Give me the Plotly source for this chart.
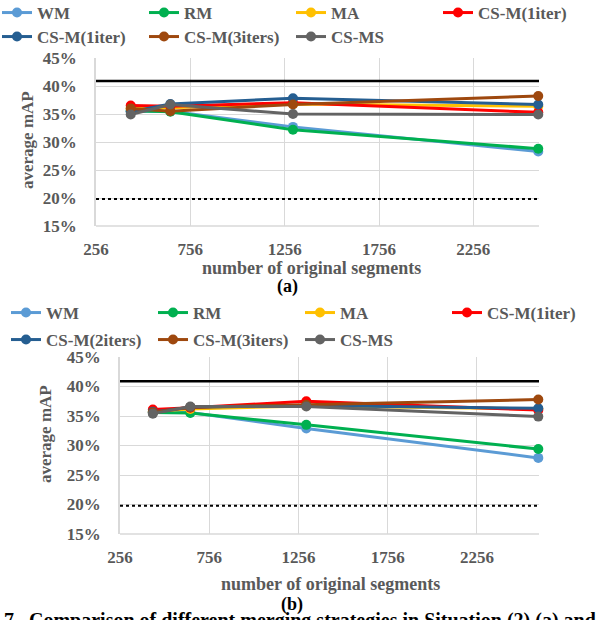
import plotly.graph_objects as go

segments = [440, 650, 1300, 2600]

names_a = ["WM", "RM", "MA", "CS-M(1iter)", "CS-M(1iter)", "CS-M(3iters)", "CS-MS"]
names_b = ["WM", "RM", "MA", "CS-M(1iter)", "CS-M(2iters)", "CS-M(3iters)", "CS-MS"]
colors = ["#5B9BD5", "#00B050", "#FFC000", "#FF0000", "#255E91", "#9E480E", "#636363"]

# panel (a) values, %
a_wm = [35.5, 35.5, 32.7, 28.3]
a_rm = [35.6, 35.4, 32.2, 28.8]
a_ma = [36.0, 36.1, 36.8, 36.4]
a_cs1 = [36.5, 36.4, 37.0, 35.3]
a_cs2 = [35.4, 36.8, 37.8, 36.7]
a_cs3 = [36.0, 35.5, 36.7, 38.2]
a_csms = [34.9, 36.7, 35.0, 34.9]

# panel (b) values, %
b_wm = [35.6, 35.6, 32.9, 27.9]
b_rm = [35.6, 35.5, 33.5, 29.4]
b_ma = [35.8, 36.2, 36.7, 36.2]
b_cs1 = [36.1, 36.4, 37.5, 36.0]
b_cs2 = [35.7, 36.5, 36.8, 36.3]
b_cs3 = [35.6, 36.5, 36.9, 37.8]
b_csms = [35.4, 36.6, 36.6, 34.9]

upper_bound = 40.9
lower_bound = 19.8

y_ticks = [15, 20, 25, 30, 35, 40, 45]
y_labels = ["15%", "20%", "25%", "30%", "35%", "40%", "45%"]
x_tick0 = 256
x_dtick = 500

W, H = 600, 620
GRAY = "#595959"
FONT = "Liberation Serif, Times New Roman, serif"

series_a = [a_wm, a_rm, a_ma, a_cs1, a_cs2, a_cs3, a_csms]
series_b = [b_wm, b_rm, b_ma, b_cs1, b_cs2, b_cs3, b_csms]

fig = go.Figure()

for i, (nm, vals) in enumerate(zip(names_a, series_a)):
    fig.add_trace(go.Scatter(
        x=segments, y=vals, name=nm, mode="lines+markers",
        line=dict(color=colors[i], width=3),
        marker=dict(color=colors[i], size=10),
        xaxis="x", yaxis="y", cliponaxis=False,
        legend="legend" if i < 4 else "legend2",
    ))
for i, (nm, vals) in enumerate(zip(names_b, series_b)):
    fig.add_trace(go.Scatter(
        x=segments, y=vals, name=nm, mode="lines+markers",
        line=dict(color=colors[i], width=3),
        marker=dict(color=colors[i], size=10),
        xaxis="x2", yaxis="y2", cliponaxis=False,
        legend="legend3" if i < 4 else "legend4",
    ))

# reference lines
for xr, yr in [("x domain", "y"), ("x2 domain", "y2")]:
    fig.add_shape(type="line", xref=xr, yref=yr, x0=0, x1=1, y0=upper_bound, y1=upper_bound,
                  line=dict(color="black", width=2.5), layer="above")
    fig.add_shape(type="line", xref=xr, yref=yr, x0=0, x1=1, y0=lower_bound, y1=lower_bound,
                  line=dict(color="black", width=2, dash="dot"), layer="above")

def py(p):
    return 1 - p / H

def px(p):
    return p / W

tickfont = dict(family=FONT, size=17, color=GRAY, weight="bold")
xcommon = dict(range=[256, 2604], tick0=x_tick0, dtick=x_dtick, tickmode="linear",
               showgrid=True, gridcolor="#D9D9D9", gridwidth=1, zeroline=False,
               showline=False, tickfont=tickfont, ticks="", ticklabelstandoff=11)
ycommon = dict(range=[15, 45], tickmode="array", tickvals=y_ticks, ticktext=y_labels,
               showgrid=True, gridcolor="#D9D9D9", gridwidth=1, zeroline=False,
               showline=True, linecolor="#D9D9D9", linewidth=1.5,
               tickfont=tickfont, ticks="", ticklabelstandoff=14)

legfont = dict(family=FONT, size=17, color=GRAY, weight="bold")
leg = dict(orientation="h", xref="paper", yref="paper", xanchor="left", yanchor="top",
           font=legfont, entrywidth=105, entrywidthmode="pixels", bgcolor="rgba(0,0,0,0)",
           itemclick=False, tracegroupgap=0, indentation=-3)

fig.update_layout(
    width=W, height=H, margin=dict(l=0, r=0, t=0, b=0, autoexpand=False),
    plot_bgcolor="white", paper_bgcolor="white", showlegend=True,
    xaxis=dict(domain=[px(96), px(539)], anchor="y", **xcommon),
    yaxis=dict(domain=[py(226), py(58)], anchor="x", **ycommon),
    xaxis2=dict(domain=[px(120), px(539)], anchor="y2", **xcommon),
    yaxis2=dict(domain=[py(534), py(357)], anchor="x2", **ycommon),
    legend=dict(x=0, y=py(-5), **leg),
    legend2=dict(x=0, y=py(19), **leg),
    legend3=dict(x=px(9), y=py(295), **leg),
    legend4=dict(x=px(9), y=py(322), **leg),
)

# bottom axis lines in light gray
for xr, yr in [("x domain", "y domain"), ("x2 domain", "y2 domain")]:
    fig.add_shape(type="line", xref=xr, yref=yr, x0=0, x1=1, y0=0, y1=0,
                  line=dict(color="#D9D9D9", width=1.5), layer="below")

annots = [
    dict(text="number of original segments", x=px(311), y=py(268)),
    dict(text="(a)", x=px(287), y=py(286), color="black"),
    dict(text="number of original segments", x=px(330), y=py(584)),
    dict(text="(b)", x=px(292), y=py(604), color="black"),
]
for a in annots:
    fig.add_annotation(text=a["text"], x=a["x"], y=a["y"], xref="paper", yref="paper",
                       showarrow=False, xanchor="center", yanchor="middle",
                       font=dict(family=FONT, size=18, color=a.get("color", GRAY), weight="bold"))

for x0, y0 in [(27, 140), (45, 434)]:
    fig.add_annotation(text="average mAP", x=px(x0), y=py(y0), xref="paper", yref="paper",
                       showarrow=False, textangle=-90, xanchor="center", yanchor="middle",
                       font=dict(family=FONT, size=17, color=GRAY, weight="bold"))

fig.add_annotation(text="7.  Comparison of different merging strategies in Situation (2) (a) and",
                   x=px(2), y=py(620), xref="paper", yref="paper", showarrow=False,
                   xanchor="left", yanchor="middle",
                   font=dict(family=FONT, size=20, color="black", weight="bold"))

fig.write_html("out.html", config={"displayModeBar": False},
               post_script="document.body.style.margin='0';")
